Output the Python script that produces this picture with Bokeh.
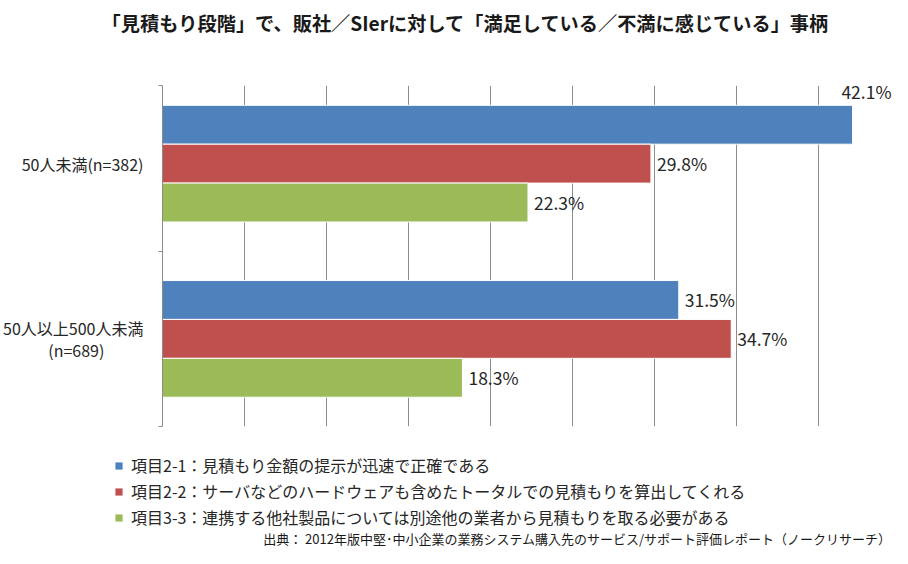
from bokeh.plotting import figure
from bokeh.models import (ColumnDataSource, FixedTicker, Legend, LegendItem, Range1d, Label)
from bokeh.layouts import column
from bokeh.embed import file_html
from bokeh.resources import INLINE
from bokeh.core.properties import value

title_text = "「見積もり段階」で、販社／SIerに対して「満足している／不満に感じている」事柄"
source_text = "出典： 2012年版中堅･中小企業の業務システム購入先のサービス/サポート評価レポート（ノークリサーチ）"
categories = ["50人未満(n=382)", "50人以上500人未満\n(n=689)\u3000\u3000\u00a0\u00a0"]
series_names = [
    "項目2-1：見積もり金額の提示が迅速で正確である",
    "項目2-2：サーバなどのハードウェアも含めたトータルでの見積もりを算出してくれる",
    "項目3-3：連携する他社製品については別途他の業者から見積もりを取る必要がある",
]
series_values = [
    [42.1, 31.5],
    [29.8, 34.7],
    [22.3, 18.3],
]
colors = ["#4F81BD", "#C0504D", "#9BBB59"]
grid_ticks = [5, 10, 15, 20, 25, 30, 35, 40]

FONT = "Noto Sans CJK JP"
W = 892
H0, H1, H2 = 80, 351, 117
X_END = 44.54
Y_TOP = 1.946
BAR_H = 0.222
TXT = "#262626"


def strip(height):
    f = figure(width=W, height=height, output_backend="svg", toolbar_location=None,
               x_range=Range1d(0, W), y_range=Range1d(0, height))
    f.min_border_left = f.min_border_right = f.min_border_top = f.min_border_bottom = 0
    f.frame_align = False
    f.axis.visible = False
    f.grid.visible = False
    f.outline_line_color = None
    f.background_fill_color = "white"
    f.border_fill_color = "white"
    return f


# --- title strip
t = strip(H0)
t.add_layout(Label(x=465, y=H0 - 22, text=title_text, text_align="center",
                   text_baseline="middle", text_font=FONT, text_font_size="19.2px",
                   text_font_style="bold", text_color="#1A1A1A"))

# --- main chart
p = figure(width=W, height=H1, output_backend="svg", toolbar_location=None,
           x_range=Range1d(0, X_END), y_range=Range1d(0, Y_TOP))
p.frame_align = False
p.min_border_left = 158
p.min_border_right = 0
p.min_border_top = 5
p.min_border_bottom = 5
p.outline_line_color = None
p.background_fill_color = "white"
p.border_fill_color = "white"

p.xaxis.visible = False
p.xgrid.ticker = FixedTicker(ticks=grid_ticks)
p.xgrid.grid_line_color = "#8C8C8C"
p.xgrid.grid_line_width = 1
p.ygrid.visible = False

n_cat = len(categories)
centers = [n_cat - i - 0.5 for i in range(n_cat)]
p.yaxis.ticker = FixedTicker(ticks=centers, minor_ticks=[0, 1, Y_TOP])
p.yaxis.major_label_overrides = {c: lab for c, lab in zip(centers, categories)}
p.yaxis.major_tick_line_color = None
p.yaxis.minor_tick_line_color = "#8C8C8C"
p.yaxis.minor_tick_in = 0
p.yaxis.minor_tick_out = 4
p.yaxis.axis_line_color = "#8C8C8C"
p.yaxis.major_label_text_font = FONT
p.yaxis.major_label_text_font_size = "16px"
p.yaxis.major_label_text_color = TXT
p.yaxis.major_label_text_line_height = 0.9
p.yaxis.major_label_standoff = 13

offsets = [BAR_H, 0.0, -BAR_H]
for s, (name, vals, col) in enumerate(zip(series_names, series_values, colors)):
    ys = [c + offsets[s] for c in centers]
    src = ColumnDataSource(dict(y=ys, right=vals))
    p.hbar(y="y", left=0, right="right", height=BAR_H, source=src,
           fill_color=col, line_color="white", line_width=1)
    lx, align, xoff, yoff, txt = [], [], [], [], []
    for v in vals:
        txt.append(f"{v:.1f}%")
        if v > 40:
            lx.append(X_END); align.append("right"); xoff.append(-1); yoff.append(-33)
        else:
            lx.append(v); align.append("left"); xoff.append(6); yoff.append(0)
    lsrc = ColumnDataSource(dict(x=lx, y=ys, t=txt, a=align, xo=xoff, yo=yoff))
    p.text(x="x", y="y", text="t", source=lsrc, text_align="a", x_offset="xo",
           y_offset="yo", text_baseline="middle", text_font=value(FONT),
           text_font_size="17.5px", text_color=TXT)

# --- legend and source strip
q = strip(H2)
items = []
for name, vals, col in zip(series_names, series_values, colors):
    src = ColumnDataSource(dict(y=centers, right=vals))
    r = q.hbar(y="y", left=0, right="right", height=1, source=src, fill_color=col,
               line_color=None, visible=False)
    items.append(LegendItem(label=name, renderers=[r]))
legend = Legend(items=items, location=(114, 19), orientation="vertical")
legend.click_policy = "none"
legend.inactive_fill_alpha = 0
legend.label_text_font = FONT
legend.label_text_font_size = "16px"
legend.label_text_color = TXT
legend.glyph_width = 9
legend.glyph_height = 9
legend.label_height = 24
legend.label_standoff = 8
legend.spacing = 2
legend.padding = 0
legend.margin = 0
legend.border_line_color = None
legend.background_fill_alpha = 0
q.add_layout(legend, "center")

q.add_layout(Label(x=891, y=10, text=source_text, text_align="right", text_baseline="middle",
                   text_font=FONT, text_font_size="13px", text_color="#1A1A1A"))

layout = column(t, p, q, spacing=0)
open("out.html", "w").write(file_html(layout, INLINE))
